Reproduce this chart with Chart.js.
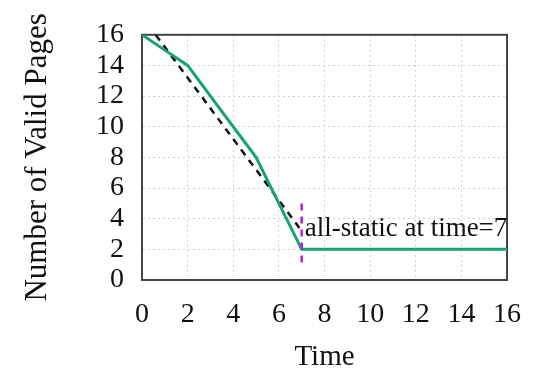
<!DOCTYPE html>
<html>
<head>
<meta charset="utf-8">
<script src="https://cdn.jsdelivr.net/npm/chart.js@4"></script>
<style>
  body { margin: 0; background: #fff; }
  #wrap { width: 539px; height: 372px; }
</style>
</head>
<body>
<div id="wrap"><canvas id="pagesChart"></canvas></div>
<script>
// valid pages over time
const timeSteps = [0, 1, 2, 3, 4, 5, 6, 7, 8, 9, 10, 11, 12, 13, 14, 15, 16];
const validPages = [16, 15, 14, 12, 10, 8, 5, 2, 2, 2, 2, 2, 2, 2, 2, 2, 2];

// dashed reference line
const refX = [0.6, 6.9];
const refY = [16, 3.4];

// all-static marker
const markerX = [7, 7];
const markerY = [5, 1];
const noteText = "all-static at time=7";
const noteX = 7;
const noteY = 2.9;

const tickValues = [0, 2, 4, 6, 8, 10, 12, 14, 16];

const serif = "'Liberation Serif', 'DejaVu Serif', serif";

const framePlugin = {
    id: "frame",
    beforeDatasetsDraw(chart) {
        const { ctx, chartArea: a } = chart;
        ctx.save();
        ctx.strokeStyle = "#444";
        ctx.lineWidth = 2;
        ctx.strokeRect(a.left, a.top, a.right - a.left, a.bottom - a.top);
        ctx.restore();
    },
    afterDatasetsDraw(chart) {
        const { ctx, scales } = chart;
        ctx.save();
        ctx.font = "27px " + serif;
        ctx.fillStyle = "#111";
        ctx.textBaseline = "alphabetic";
        ctx.fillText(noteText, scales.x.getPixelForValue(noteX) + 3, scales.y.getPixelForValue(noteY));
        ctx.restore();
    }
};

const chart = new Chart(document.getElementById("pagesChart").getContext("2d"), {
    type: "line",
    data: {
        datasets: [
            {
                data: timeSteps.map((t, i) => ({ x: t, y: validPages[i] })),
                borderColor: "#17a274",
                borderWidth: 3,
                pointRadius: 0,
                order: 1
            },
            {
                data: refX.map((t, i) => ({ x: t, y: refY[i] })),
                borderColor: "#111",
                borderWidth: 2.5,
                borderDash: [7, 6],
                pointRadius: 0,
                order: 2
            },
            {
                data: markerX.map((t, i) => ({ x: t, y: markerY[i] })),
                borderColor: "#b01ee6",
                borderWidth: 2.5,
                borderDash: [7, 6],
                pointRadius: 0,
                order: 0
            }
        ]
    },
    options: {
        responsive: true,
        maintainAspectRatio: false,
        animation: false,
        layout: { padding: { left: 0, right: 31, top: 28, bottom: 0 } },
        plugins: { legend: { display: false }, tooltip: { enabled: false } },
        scales: {
            x: {
                type: "linear",
                min: 0,
                max: 16,
                afterBuildTicks: s => { s.ticks = tickValues.map(v => ({ value: v })); },
                afterFit: s => { s.height = 92; },
                grid: { color: "#d0d0d0", lineWidth: 1, drawTicks: false },
                border: { color: "#444", width: 2, dash: [2, 3] },
                ticks: { color: "#111", padding: 18, autoSkip: false, maxRotation: 0, font: { family: serif, size: 28 } },
                title: { display: true, text: "Time", color: "#111", padding: 0, font: { family: serif, size: 29, lineHeight: 1 } }
            },
            y: {
                min: 0,
                max: 16,
                afterBuildTicks: s => { s.ticks = tickValues.map(v => ({ value: v })); },
                afterFit: s => { s.width = 142; },
                grid: { color: "#d0d0d0", lineWidth: 1, drawTicks: false },
                border: { color: "#444", width: 2, dash: [2, 3] },
                ticks: { color: "#111", padding: 18, autoSkip: false, font: { family: serif, size: 28 } },
                title: { display: true, text: "Number of Valid Pages", color: "#111", padding: { top: 22, bottom: 0 }, font: { family: serif, size: 31, lineHeight: 1 } }
            }
        }
    },
    plugins: [framePlugin]
});
</script>
</body>
</html>
